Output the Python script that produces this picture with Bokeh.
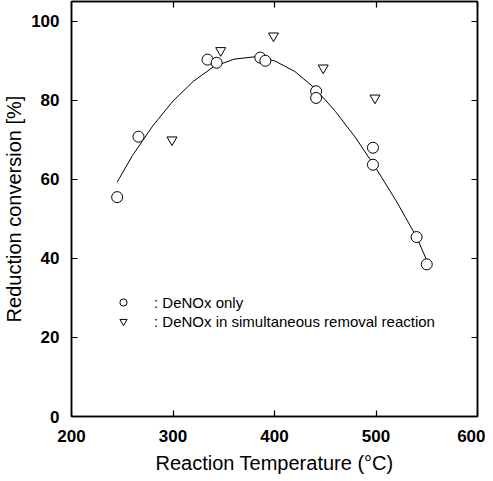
from bokeh.plotting import figure
from bokeh.models import Range1d, LinearAxis, Legend, LegendItem, FixedTicker
from bokeh.embed import file_html
from bokeh.resources import INLINE

# DeNOx only (circles)
deno_x = [245, 266, 334, 343, 386, 391, 441, 441, 497, 497, 540, 550]
deno_y = [55.5, 70.8, 90.3, 89.5, 90.8, 90.0, 82.3, 80.6, 68.0, 63.7, 45.4, 38.5]
# DeNOx in simultaneous removal reaction (inverted triangles)
sim_x = [299, 347, 399, 448, 499]
sim_y = [70.0, 92.6, 96.3, 88.2, 80.6]
# fitted curve
fit_x = [245, 260, 280, 300, 320, 340, 360, 380, 400, 420, 440, 460, 480, 500, 520, 540, 550]
fit_y = [59.3, 66.0, 73.5, 79.8, 84.8, 88.5, 90.4, 91.0, 90.0, 87.3, 83.0, 77.2, 70.5, 62.8, 54.5, 45.4, 39.5]

x_ticks = [200, 300, 400, 500, 600]
y_ticks = [0, 20, 40, 60, 80, 100]

FONT = "Liberation Sans"

p = figure(width=485, height=476, output_backend="svg", toolbar_location=None,
           x_range=Range1d(200, 600), y_range=Range1d(0, 105),
           min_border_left=67, min_border_right=8, min_border_top=1, min_border_bottom=58)
p.grid.visible = False
p.outline_line_color = "black"
p.outline_line_width = 1.5
p.background_fill_color = "white"
p.border_fill_color = "white"

for ax in (p.xaxis[0], p.yaxis[0]):
    ax.major_tick_in = 6
    ax.major_tick_out = 0
    ax.minor_tick_line_color = None
    ax.axis_line_width = 1.5
    ax.axis_line_color = "black"
    ax.major_tick_line_width = 1.2
    ax.major_tick_line_color = "black"
    ax.major_label_text_font = FONT
    ax.major_label_text_font_size = "17px"
    ax.major_label_text_font_style = "bold"
    ax.major_label_text_color = "black"
    ax.axis_label_text_font = FONT
    ax.axis_label_text_font_size = "20px"
    ax.axis_label_text_font_style = "normal"
    ax.axis_label_text_color = "black"

p.xaxis[0].ticker = FixedTicker(ticks=x_ticks)
p.yaxis[0].ticker = FixedTicker(ticks=y_ticks)
p.xaxis[0].axis_label = "Reaction Temperature (°C)"
p.yaxis[0].axis_label = "Reduction conversion [%]"
p.xaxis[0].major_label_standoff = 13
p.yaxis[0].major_label_standoff = 12
p.xaxis[0].axis_label_standoff = 7
p.yaxis[0].axis_label_standoff = 3

top = LinearAxis(ticker=FixedTicker(ticks=x_ticks),
                 major_label_overrides={t: "" for t in x_ticks},
                 major_tick_in=6, major_tick_out=0, minor_tick_line_color=None,
                 axis_line_width=1.5, major_tick_line_width=1.2, major_label_standoff=0)
right = LinearAxis(ticker=FixedTicker(ticks=y_ticks),
                   major_label_overrides={t: "" for t in y_ticks},
                   major_tick_in=6, major_tick_out=0, minor_tick_line_color=None,
                   axis_line_width=1.5, major_tick_line_width=1.2, major_label_standoff=0)
p.add_layout(top, "above")
p.add_layout(right, "right")

p.line(fit_x, fit_y, line_color="black", line_width=1)
r1 = p.scatter(deno_x, deno_y, marker="circle", size=11, fill_color="white",
               line_color="black", line_width=1)
r2 = p.scatter(sim_x, sim_y, marker="inverted_triangle", size=10, fill_color="white",
               line_color="black", line_width=1)

legend = Legend(items=[LegendItem(label=": DeNOx only", renderers=[r1]),
                       LegendItem(label=": DeNOx in simultaneous removal reaction", renderers=[r2])],
                location=(42, 86), padding=0, margin=0, spacing=1,
                glyph_width=20, glyph_height=18, label_height=18, label_standoff=21,
                label_text_font=FONT, label_text_font_size="15px", label_text_color="black",
                border_line_color=None, background_fill_alpha=0)
p.add_layout(legend, "center")

open("out.html", "w").write(file_html(p, INLINE))
